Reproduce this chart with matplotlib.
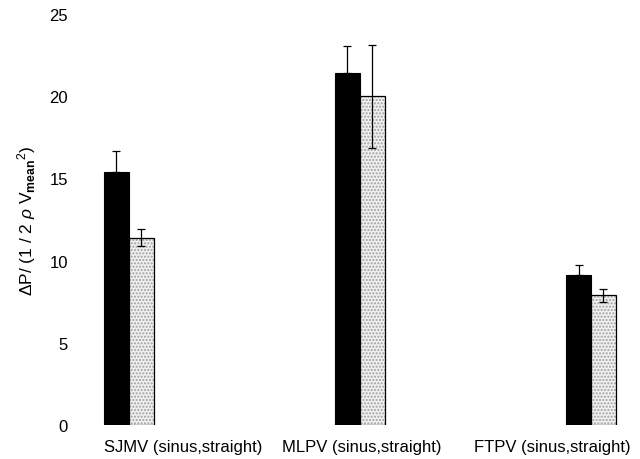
import matplotlib
matplotlib.use("Agg")
import matplotlib.pyplot as plt
import numpy as np

categories = ["SJMV (sinus,straight)", "MLPV (sinus,straight)", "FTPV (sinus,straight)"]
sinus_vals = [15.4, 21.45, 9.15]
sinus_err = [1.25, 1.6, 0.6]
straight_vals = [11.4, 20.0, 7.9]
straight_err = [0.5, 3.15, 0.4]
yticks = [0, 5, 10, 15, 20, 25]

plt.rcParams['font.family'] = ['Liberation Sans', 'DejaVu Sans']
plt.rcParams['mathtext.fontset'] = 'custom'
plt.rcParams['mathtext.rm'] = 'Liberation Sans'
plt.rcParams['mathtext.it'] = 'Liberation Sans:italic'
plt.rcParams['mathtext.bf'] = 'Liberation Sans:bold'

fig = plt.figure(figsize=(6.4, 4.6), dpi=100)
ax = fig.add_axes([0.156, 0.074, 0.844, 0.893])

x = np.arange(len(categories))
w = 0.108

ax.bar(x - w / 2, sinus_vals, w, color='black', edgecolor='black', linewidth=0.8)
ax.errorbar(x - w / 2, sinus_vals, yerr=[np.zeros(3), sinus_err], fmt='none',
            ecolor='black', elinewidth=0.9, capsize=3, capthick=0.9)

ax.bar(x + w / 2, straight_vals, w, color='#f0f0f0', edgecolor='#a0a0a0',
       hatch='.....', linewidth=0)
ax.bar(x + w / 2, straight_vals, w, fill=False, edgecolor='black', linewidth=0.9)
ax.errorbar(x + w / 2, straight_vals, yerr=straight_err, fmt='none',
            ecolor='black', elinewidth=0.9, capsize=3, capthick=0.9)

ax.set_ylim(0, 25)
ax.set_xlim(-0.1255, 2.212)
ax.set_yticks(yticks)
ax.set_yticklabels([str(t) for t in yticks], fontsize=12)

label_pos = [(183 - 129) / 231, (362 - 129) / 231, (552 - 129) / 231]
ax.set_xticks(label_pos)
ax.set_xticklabels(categories, fontsize=12)
ax.tick_params(axis='both', length=0)
ax.tick_params(axis='y', pad=23)
ax.tick_params(axis='x', pad=10)

for s in ax.spines.values():
    s.set_visible(False)

ax.set_ylabel(r'$\mathit{\Delta}$P/ (1 / 2 $\mathit{\rho}$ V$_{\mathbf{mean}}$$^{2}$)', fontsize=12.5, labelpad=8)

fig.savefig("out.png", dpi=100)
